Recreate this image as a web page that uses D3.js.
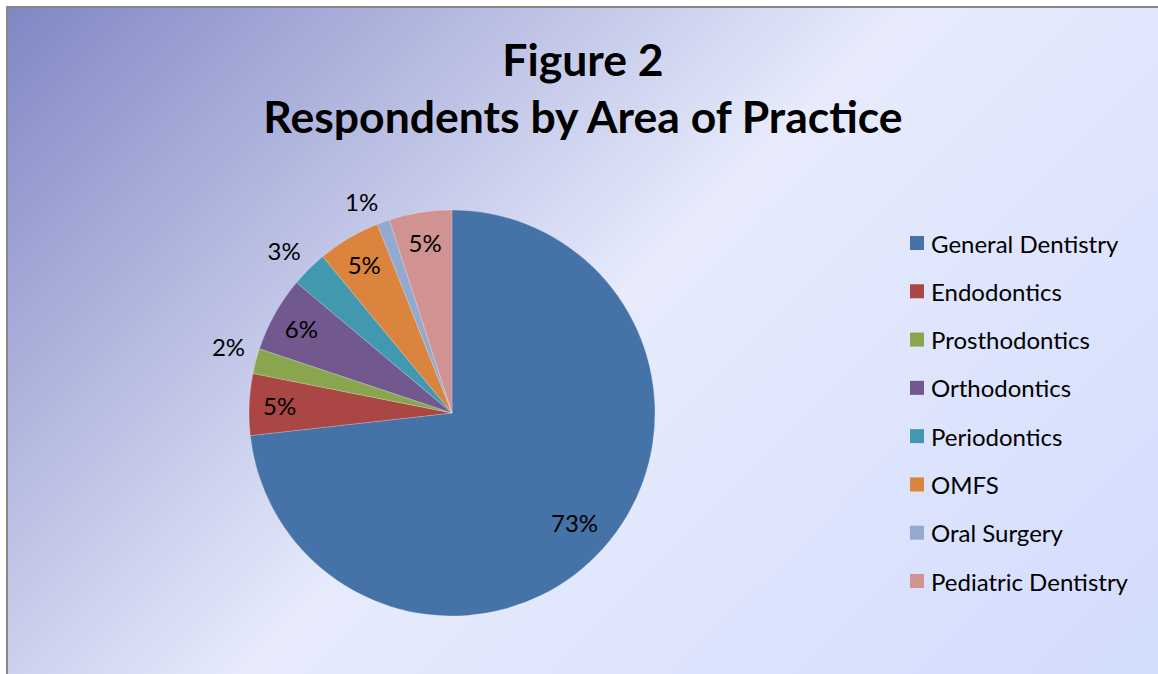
<!DOCTYPE html>
<html><head><meta charset="utf-8">
<script src="https://cdn.jsdelivr.net/npm/d3@7/dist/d3.min.js"></script>
<style>html,body{margin:0;padding:0;background:#fff;}svg{display:block;}</style>
</head><body>
<script>
const categories = ["General Dentistry","Endodontics","Prosthodontics","Orthodontics","Periodontics","OMFS","Oral Surgery","Pediatric Dentistry"];
const values = [73.3, 4.9, 2.0, 6.0, 2.9, 5.0, 1.0, 5.0];
const colors = ["#4572A7","#AA4643","#89A54E","#71588F","#4198AF","#DB843D","#93A9CF","#D19392"];
const titleLines = ["Figure 2","Respondents by Area of Practice"];

const W = 1158, H = 674;
const FONT = "Lato, 'Open Sans', sans-serif";
const svg = d3.select("body").append("svg").attr("width", W).attr("height", H);
const defs = svg.append("defs");
const g = defs.append("linearGradient").attr("id","bg").attr("gradientUnits","userSpaceOnUse")
  .attr("x1",0).attr("y1",0).attr("x2",916).attr("y2",916);
g.append("stop").attr("offset","0%").attr("stop-color","#7f85c3");
g.append("stop").attr("offset","50%").attr("stop-color","#e7ebfc");
g.append("stop").attr("offset","100%").attr("stop-color","#d2dcfd");

svg.append("rect").attr("x",0).attr("y",0).attr("width",W).attr("height",H).attr("fill","#fff");
svg.append("rect").attr("x",7).attr("y",7).attr("width",W+10).attr("height",H+10)
  .attr("fill","url(#bg)").attr("stroke","#878787").attr("stroke-width",2);

// title
const title = svg.append("text").attr("text-anchor","middle")
  .attr("font-family",FONT).attr("font-weight","bold").attr("font-size",44.5).attr("fill","#000");
titleLines.forEach((t,i)=>{
  title.append("tspan").attr("x",583).attr("y",76 + i*57).text(t);
});

// pie
const cx = 452, cy = 413, r = 203;
const total = d3.sum(values);
const pie = d3.pie().sort(null).value(d=>d)(values);
const arc = d3.arc().innerRadius(0).outerRadius(r);
const gp = svg.append("g").attr("transform",`translate(${cx},${cy})`);
gp.selectAll("path").data(pie).join("path")
  .attr("d",arc).attr("fill",(d,i)=>colors[i])
  .attr("stroke","rgba(255,255,255,0.35)").attr("stroke-width",0.6);

const fmt = d3.format(".0%");
gp.selectAll("text.lbl").data(pie).join("text").attr("class","lbl")
  .attr("font-family",FONT).attr("font-size",24).attr("fill","#000")
  .attr("text-anchor","middle").attr("dominant-baseline","central")
  .each(function(d){
    const frac = d.value/total;
    const mid = (d.startAngle+d.endAngle)/2;
    const sx = Math.sin(mid), sy = -Math.cos(mid);
    const el = d3.select(this).text(fmt(frac));
    if (frac < 0.04) {
      // outside label: box corner nearest the pie sits just beyond the rim
      const w = this.getComputedTextLength() + 4, h = 24;
      const px = sx*(r+9), py = sy*(r+9);
      el.attr("x", px + Math.sign(sx)*w/2).attr("y", py + Math.sign(sy)*h/2);
    } else {
      const rr = frac > 0.5 ? r*0.81 : r*0.85;
      el.attr("x", sx*rr).attr("y", sy*rr);
    }
  });

// legend
const lg = svg.append("g");
const ly = d3.scalePoint().domain(categories).range([243, 581]);
categories.forEach((c,i)=>{
  lg.append("rect").attr("x",910).attr("y",ly(c)-7).attr("width",14).attr("height",14).attr("fill",colors[i]);
  lg.append("text").attr("x",931).attr("y",ly(c)).attr("dominant-baseline","central")
    .attr("font-family",FONT).attr("font-size",24).attr("fill","#000").text(c);
});
</script>
</body></html>
